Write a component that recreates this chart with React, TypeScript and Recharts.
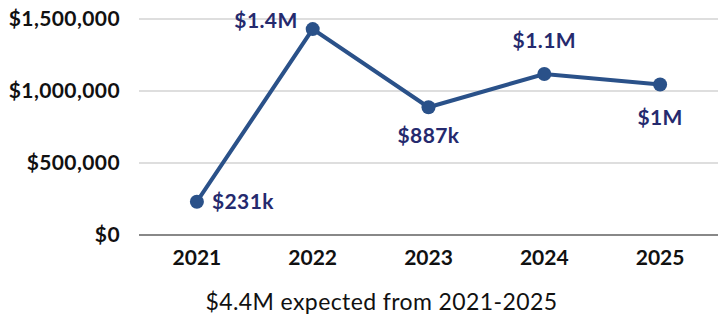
import { LineChart, Line, XAxis, YAxis, CartesianGrid, LabelList } from "recharts";

const years = ["2021", "2022", "2023", "2024", "2025"];
const amounts = [231000, 1430000, 887000, 1118000, 1045000];
const amountLabels = ["$231k", "$1.4M", "$887k", "$1.1M", "$1M"];
const yTicks = [0, 500000, 1000000, 1500000];
const caption = "$4.4M expected from 2021-2025";

const chartData = years.map((year, i) => ({
  year,
  amount: amounts[i],
  label: amountLabels[i],
}));

// where each value label sits relative to its point
const labelPlacement = [
  { dx: 15, dy: 7, anchor: "start" },
  { dx: -15, dy: -1, anchor: "end" },
  { dx: 0, dy: 36, anchor: "middle" },
  { dx: 0, dy: -26, anchor: "middle" },
  { dx: 0, dy: 40, anchor: "middle" },
];

const fmtMoney = (v: number) => "$" + v.toLocaleString("en-US");

const ValueLabel = (props: any) => {
  const { x, y, index, value } = props;
  const p = labelPlacement[index];
  return (
    <text
      x={x + p.dx}
      y={y + p.dy}
      textAnchor={p.anchor}
      fill="#252a6e"
      fontSize={21}
      fontWeight={700}
      fontFamily="Lato"
      letterSpacing={0.4}
    >
      {value}
    </text>
  );
};

export default function App() {
  return (
    <div style={{ position: "absolute", left: 0, top: 0, width: 718, height: 318, background: "#fff" }}>
      <LineChart width={718} height={318} data={chartData} margin={{ top: 19, right: 0, bottom: 0, left: 0 }}>
        <CartesianGrid vertical={false} stroke="#bdbdbd" strokeWidth={1.2} />
        <XAxis
          dataKey="year"
          scale="band"
          axisLine={{ stroke: "#6b6b6b", strokeWidth: 1.5 }}
          tickLine={false}
          tickSize={0}
          tickMargin={15}
          height={83}
          tick={{ fill: "#111", fontSize: 21, fontWeight: 700, fontFamily: "Lato" }}
          label={{
            value: caption,
            position: "insideBottom",
            offset: 8,
            dx: -47,
            fill: "#111",
            fontSize: 23,
            fontFamily: "Lato",
            letterSpacing: 0.4,
          }}
        />
        <YAxis
          width={139}
          domain={[0, 1500000]}
          ticks={yTicks}
          axisLine={false}
          tickLine={false}
          tickSize={0}
          tickMargin={19}
          tickFormatter={fmtMoney}
          tick={{ fill: "#111", fontSize: 21, fontWeight: 700, fontFamily: "Lato", letterSpacing: 0.4 }}
        />
        <Line
          type="linear"
          dataKey="amount"
          stroke="#2a5189"
          strokeWidth={4}
          dot={{ r: 7, fill: "#2a5189", stroke: "#2a5189", strokeWidth: 0 }}
          isAnimationActive={false}
        >
          <LabelList dataKey="label" content={ValueLabel} />
        </Line>
      </LineChart>
    </div>
  );
}
